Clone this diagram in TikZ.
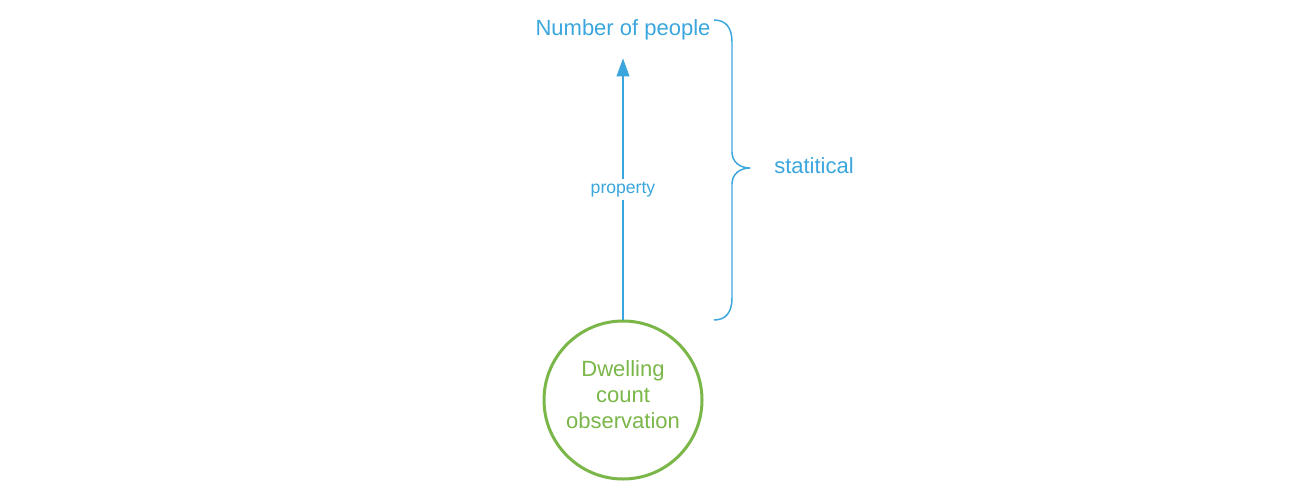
\documentclass[tikz,border=0pt]{standalone}
\usepackage{fontspec}
\setmainfont{Liberation Sans}
\usetikzlibrary{arrows.meta}
\definecolor{lblue}{RGB}{58,166,221}
\definecolor{lgreen}{RGB}{122,182,72}

\begin{document}
\begin{tikzpicture} [x=0.75pt,y=-0.75pt,every node/.style={text=lblue,font=\fontsize{16.5}{19.5}\selectfont},
  obsnode/.style={circle,draw=lgreen,line width=2.25pt,text=lgreen,minimum size=118.5pt,align=center,inner sep=0pt,text depth=7.5pt}]
\useasboundingbox (0,0) rectangle (1289,497);

\node[obsnode] (obs) at (623,400) {Dwelling\\count\\observation};
\node (num) at (623,30) {Number of people};
\node (stat) at (814,166) {statitical};

\draw[lblue,line width=1.5pt,-{Triangle[width=9.4pt,length=13.5pt]},shorten >=10pt] (obs) -- (num)
  node[pos=0.474,fill=white,inner sep=2pt,font=\fontsize{13.2}{15}\selectfont] (prop) {property};

% brace
\coordinate (bt) at (714,20);
\coordinate (bb) at (714,320);
\coordinate (bm) at (750,168);
\draw[lblue,line width=1.1pt] (bt) .. controls (726,20) and (732,28) .. (732,42) -- (732,152)
  .. controls (732,162) and (740,168) .. (bm) .. controls (740,168) and (732,174) .. (732,184)
  -- (732,298) .. controls (732,312) and (726,320) .. (bb);

\end{tikzpicture}
\end{document}
